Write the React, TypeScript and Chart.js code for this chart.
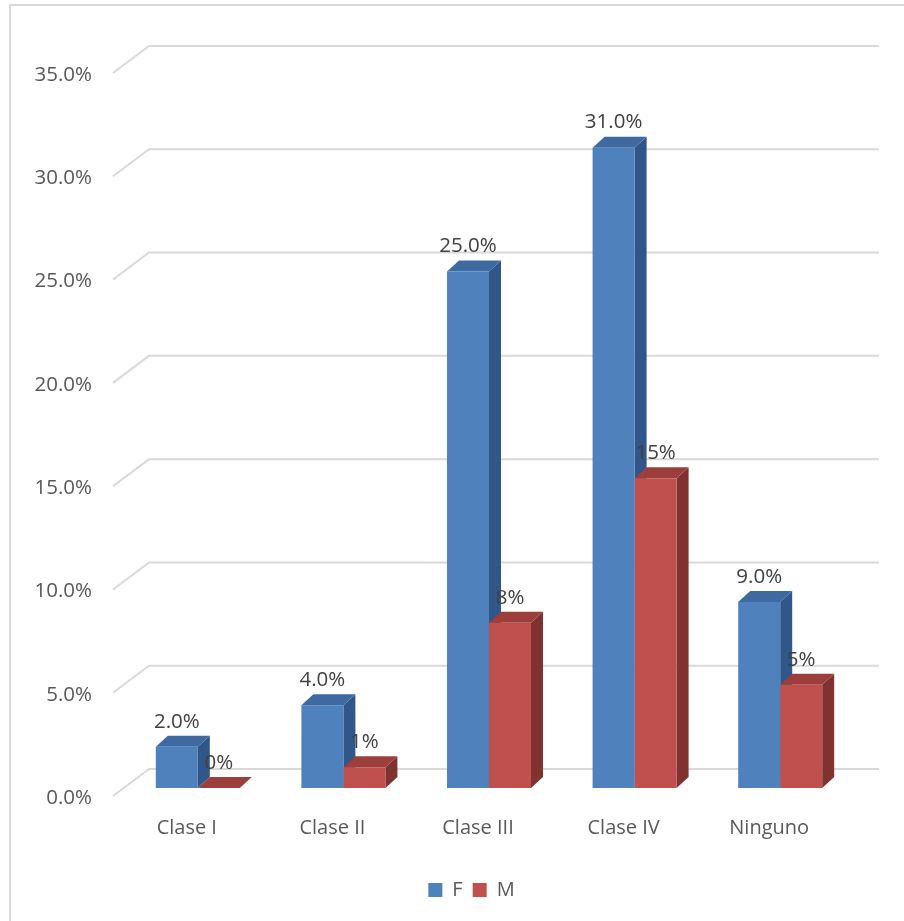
import React, { useEffect, useRef } from 'react';
import { Chart, registerables } from 'chart.js';

Chart.register(...registerables);

// Share of patients per class, split by sex (percent)
const categories = ['Clase I', 'Clase II', 'Clase III', 'Clase IV', 'Ninguno'];
const seriesNames = ['F', 'M'];
const femaleValues = [2, 4, 25, 31, 9];
const maleValues = [0, 1, 8, 15, 5];
const yMin = 0;
const yMax = 35;
const yStep = 5;

const FONT = '"Open Sans", "DejaVu Sans", sans-serif';
const AXIS_TEXT = '#595959';
const LABEL_TEXT = '#404040';
const GRID = '#d9d9d9';

// Oblique depth used for the 3D look
const DX = 12;
const DY = 11;

const faces = [
  { front: '#4f81bd', top: '#3e6aa1', side: '#30568a' },
  { front: '#c0504d', top: '#9c3f3c', side: '#7f3230' },
];

const labelFormat = [
  (v: number) => v.toFixed(1) + '%',
  (v: number) => v.toFixed(0) + '%',
];

function poly(ctx: CanvasRenderingContext2D, pts: number[][], color: string) {
  ctx.beginPath();
  ctx.moveTo(pts[0][0], pts[0][1]);
  for (let i = 1; i < pts.length; i++) ctx.lineTo(pts[i][0], pts[i][1]);
  ctx.closePath();
  ctx.fillStyle = color;
  ctx.fill();
}

const bars3d = {
  id: 'bars3d',
  afterLayout(chart: any) {
    // keep the legend centred under the plot rather than the whole canvas
    if (chart.legend) chart.legend.left += 90;
  },
  beforeDraw(chart: any) {
    const ctx = chart.ctx as CanvasRenderingContext2D;
    ctx.save();
    ctx.strokeStyle = GRID;
    ctx.lineWidth = 2;
    ctx.beginPath();
    ctx.moveTo(10, chart.height);
    ctx.lineTo(10, 5);
    ctx.lineTo(chart.width, 5);
    ctx.stroke();
    ctx.restore();
  },
  beforeDatasetsDraw(chart: any) {
    const ctx = chart.ctx as CanvasRenderingContext2D;
    const yScale = chart.scales.y;
    const area = chart.chartArea;
    ctx.save();
    // back wall gridlines with the floor-to-wall diagonal on the left
    ctx.strokeStyle = GRID;
    ctx.lineWidth = 2;
    yScale.ticks.forEach((t: any) => {
      const py = yScale.getPixelForValue(t.value);
      ctx.beginPath();
      ctx.moveTo(area.left - 12, py + 8);
      ctx.lineTo(area.left + 24, py - 19);
      ctx.lineTo(area.right + 26, py - 19);
      ctx.stroke();
    });
    // side and top faces, drawn before the library paints the front faces
    categories.forEach((_, i) => {
      chart.data.datasets.forEach((_ds: any, d: number) => {
        const el = chart.getDatasetMeta(d).data[i];
        if (!el) return;
        const { x, y, base, width } = el.getProps(['x', 'y', 'base', 'width'], true);
        const l = x - width / 2;
        const r = x + width / 2;
        poly(ctx, [[r, y], [r + DX, y - DY], [r + DX, base - DY], [r, base]], faces[d].side);
        poly(ctx, [[l, y], [r, y], [r + DX, y - DY], [l + DX, y - DY]], faces[d].top);
      });
    });
    ctx.restore();
  },
  afterDatasetsDraw(chart: any) {
    const ctx = chart.ctx as CanvasRenderingContext2D;
    ctx.save();
    ctx.font = `20.5px ${FONT}`;
    ctx.fillStyle = LABEL_TEXT;
    ctx.textAlign = 'center';
    ctx.textBaseline = 'middle';
    chart.data.datasets.forEach((ds: any, d: number) => {
      chart.getDatasetMeta(d).data.forEach((el: any, i: number) => {
        const { x, y } = el.getProps(['x', 'y'], true);
        ctx.fillText(labelFormat[d](ds.data[i]), x, y - 25);
      });
    });
    ctx.restore();
  },
};

export default function App() {
  const canvasRef = useRef<HTMLCanvasElement | null>(null);

  useEffect(() => {
    if (!canvasRef.current) return;
    const chart = new Chart(canvasRef.current, {
      type: 'bar',
      data: {
        labels: categories,
        datasets: [
          {
            label: seriesNames[0],
            data: femaleValues,
            backgroundColor: faces[0].front,
            borderWidth: 0,
            barPercentage: 1,
            categoryPercentage: 0.577,
          },
          {
            label: seriesNames[1],
            data: maleValues,
            backgroundColor: faces[1].front,
            borderWidth: 0,
            barPercentage: 1,
            categoryPercentage: 0.577,
          },
        ],
      },
      options: {
        responsive: false,
        animation: false,
        devicePixelRatio: 1,
        layout: { padding: { top: 65, left: 0, right: 51, bottom: 11 } },
        plugins: {
          tooltip: { enabled: false },
          legend: {
            position: 'bottom',
            labels: {
              boxWidth: 14,
              boxHeight: 14,
              padding: 10,
              color: AXIS_TEXT,
              font: { family: FONT, size: 20 },
            },
          },
        },
        scales: {
          x: {
            grid: { display: false, drawTicks: false },
            border: { display: false },
            ticks: {
              color: AXIS_TEXT,
              font: { family: FONT, size: 20 },
              padding: 28,
              labelOffset: -11,
            },
            afterFit: (s: any) => {
              s.height = 82;
            },
          },
          y: {
            min: yMin,
            max: yMax,
            grid: { display: false, drawTicks: false },
            border: { display: false },
            ticks: {
              stepSize: yStep,
              color: AXIS_TEXT,
              font: { family: FONT, size: 20.5 },
              padding: 33,
              labelOffset: 10,
              callback: (v: any) => Number(v).toFixed(1) + '%',
            },
            afterFit: (s: any) => {
              s.width = 125;
            },
          },
        },
      },
      plugins: [bars3d],
    } as any);
    return () => chart.destroy();
  }, []);

  return (
    <div style={{ position: 'absolute', left: 0, top: 0, width: 904, height: 921 }}>
      <canvas ref={canvasRef} width={904} height={921} />
    </div>
  );
}
